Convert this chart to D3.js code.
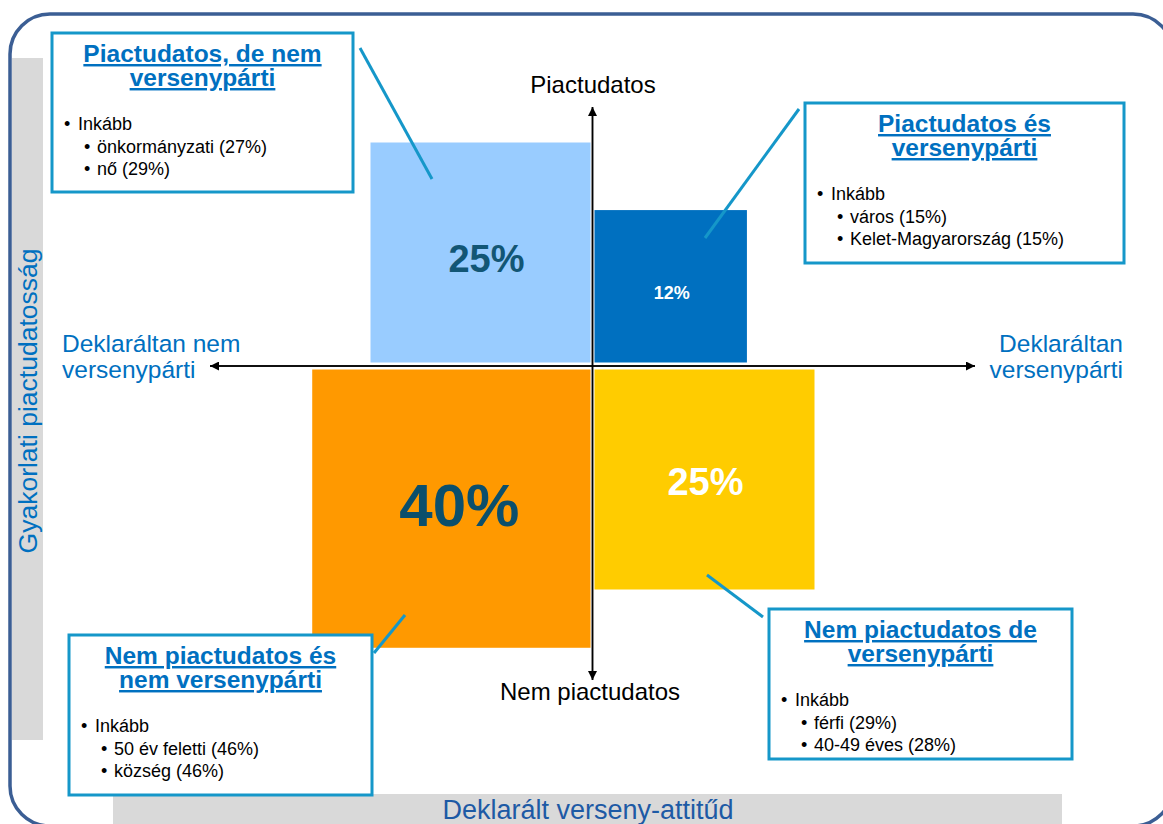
<!DOCTYPE html>
<html lang="hu">
<head>
<meta charset="utf-8">
<script src="https://cdn.jsdelivr.net/npm/d3@7"></script>
<style>
  html, body { margin: 0; padding: 0; background: #fff; overflow: hidden; }
  svg { display: block; font-family: "Liberation Sans", Arial, sans-serif; }
</style>
</head>
<body>
<div id="chart"></div>
<script>
/* quadrant chart: declared competition attitude vs practical market awareness */

const width = 1163;
const height = 824;

// order of every array: top-left, top-right, bottom-left, bottom-right
const shares = [25, 12, 40, 25];
const titles = [
  ["Piactudatos, de nem", "versenypárti"],
  ["Piactudatos és", "versenypárti"],
  ["Nem piactudatos és", "nem versenypárti"],
  ["Nem piactudatos de", "versenypárti"]
];
const leadWord = "Inkább";
const details = [
  ["önkormányzati (27%)", "nő (29%)"],
  ["város (15%)", "Kelet-Magyarország (15%)"],
  ["50 év feletti (46%)", "község (46%)"],
  ["férfi (29%)", "40-49 éves (28%)"]
];
const axisTop = "Piactudatos";
const axisBottom = "Nem piactudatos";
const axisLeft = ["Deklaráltan nem", "versenypárti"];
const axisRight = ["Deklaráltan", "versenypárti"];
const titleY = "Gyakorlati piactudatosság";
const titleX = "Deklarált verseny-attitűd";

// styles
const fillColors = ["#99ccff", "#0070c0", "#ff9900", "#ffcc00"];
const labelColors = ["#125675", "#ffffff", "#0b4f6c", "#ffffff"];
const labelSizes = [38, 18, 60, 38];
const blue = "#0070c0";
const calloutBlue = "#1597c9";

// layout
const origin = { x: 592.5, y: 366 };
const gapX = 2, gapY = 3.5;
const signs = [[-1, -1], [1, -1], [-1, 1], [1, 1]];
const boxes = [
  { x: 52, y: 33, w: 301, h: 159, from: [360, 48], to: [432, 179] },
  { x: 805, y: 103, w: 319, h: 160, from: [799, 109], to: [705, 238] },
  { x: 69, y: 635, w: 303, h: 160, from: [405, 615], to: [374, 653] },
  { x: 769, y: 609, w: 303, h: 150, from: [707, 575], to: [763, 617] }
];

const fmt = d3.format(".0%");
// square area is proportional to the share
const side = d3.scaleSqrt().domain([0, 100]).range([0, 440]);

const svg = d3.select("#chart").append("svg")
  .attr("width", width)
  .attr("height", height);

const defs = svg.append("defs");
defs.append("marker")
  .attr("id", "arrow")
  .attr("viewBox", "0 0 10 10")
  .attr("refX", 10).attr("refY", 5)
  .attr("markerWidth", 9).attr("markerHeight", 9)
  .attr("markerUnits", "userSpaceOnUse")
  .attr("orient", "auto")
  .append("path")
  .attr("d", "M0,0 L10,5 L0,10 z")
  .attr("fill", "#000");

// frame and grey title bands
svg.append("rect")
  .attr("x", 12).attr("y", 58).attr("width", 31).attr("height", 682)
  .attr("fill", "#d9d9d9");
svg.append("rect")
  .attr("x", 113).attr("y", 794).attr("width", 949).attr("height", 40)
  .attr("fill", "#d9d9d9");
svg.append("rect")
  .attr("x", 10).attr("y", 14).attr("width", 1163).attr("height", 812)
  .attr("rx", 40).attr("ry", 40)
  .attr("fill", "none")
  .attr("stroke", "#3b5e94")
  .attr("stroke-width", 3.5);

svg.append("text")
  .attr("transform", "translate(37,401) rotate(-90)")
  .attr("text-anchor", "middle")
  .attr("font-size", 26.5)
  .attr("fill", blue)
  .text(titleY);

svg.append("text")
  .attr("x", 588).attr("y", 819)
  .attr("text-anchor", "middle")
  .attr("font-size", 27)
  .attr("fill", "#1d5aa5")
  .text(titleX);

// quadrant squares
const data = shares.map((v, i) => ({ v, i, s: side(v), sx: signs[i][0], sy: signs[i][1] }));

const cells = svg.selectAll("g.cell")
  .data(data)
  .enter().append("g")
  .attr("class", "cell")
  .attr("transform", d => {
    const x = d.sx < 0 ? origin.x - gapX - d.s : origin.x + gapX;
    const y = d.sy < 0 ? origin.y - gapY - d.s : origin.y + gapY;
    return `translate(${x},${y})`;
  });

cells.append("rect")
  .attr("width", d => d.s)
  .attr("height", d => d.s)
  .attr("fill", d => fillColors[d.i]);

cells.append("text")
  .attr("x", d => d.s / 2 + (d.i === 2 ? 8 : d.i === 0 ? 6 : 1))
  .attr("y", d => d.s / 2 + labelSizes[d.i] * 0.36 + (d.i === 2 ? -4 : d.i === 3 ? 2 : 6))
  .attr("text-anchor", "middle")
  .attr("font-weight", "bold")
  .attr("font-size", d => labelSizes[d.i])
  .attr("fill", d => labelColors[d.i])
  .text(d => fmt(d.v / 100));

// axes (arrow at both ends)
[[680, 107], [107, 680]].forEach(([a, b]) => {
  svg.append("line")
    .attr("x1", origin.x).attr("x2", origin.x)
    .attr("y1", a).attr("y2", b)
    .attr("stroke", "#000").attr("stroke-width", 1.5)
    .attr("marker-end", "url(#arrow)");
});
[[975, 210], [210, 975]].forEach(([a, b]) => {
  svg.append("line")
    .attr("x1", a).attr("x2", b)
    .attr("y1", origin.y).attr("y2", origin.y)
    .attr("stroke", "#000").attr("stroke-width", 1.5)
    .attr("marker-end", "url(#arrow)");
});

svg.append("text")
  .attr("x", 593).attr("y", 93)
  .attr("text-anchor", "middle").attr("font-size", 24)
  .text(axisTop);
svg.append("text")
  .attr("x", 590).attr("y", 700)
  .attr("text-anchor", "middle").attr("font-size", 24)
  .text(axisBottom);

svg.append("g").selectAll("text")
  .data(axisLeft).enter().append("text")
  .attr("x", 62).attr("y", (d, i) => 352 + i * 26)
  .attr("font-size", 24.5).attr("fill", blue)
  .text(d => d);
svg.append("g").selectAll("text")
  .data(axisRight).enter().append("text")
  .attr("x", 1123).attr("y", (d, i) => 352 + i * 26)
  .attr("text-anchor", "end")
  .attr("font-size", 24.5).attr("fill", blue)
  .text(d => d);

// callouts
const callouts = svg.selectAll("g.callout")
  .data(boxes)
  .enter().append("g")
  .attr("class", "callout");

callouts.append("line")
  .attr("x1", d => d.from[0]).attr("y1", d => d.from[1])
  .attr("x2", d => d.to[0]).attr("y2", d => d.to[1])
  .attr("stroke", calloutBlue)
  .attr("stroke-width", 3);

callouts.append("rect")
  .attr("x", d => d.x).attr("y", d => d.y)
  .attr("width", d => d.w).attr("height", d => d.h)
  .attr("fill", "#fff")
  .attr("stroke", calloutBlue)
  .attr("stroke-width", 3);

callouts.each(function(b, i) {
  const g = d3.select(this);
  titles[i].forEach((t, k) => {
    g.append("text")
      .attr("x", b.x + b.w / 2)
      .attr("y", b.y + 29 + k * 24)
      .attr("text-anchor", "middle")
      .attr("font-size", 24.5)
      .attr("font-weight", "bold")
      .attr("fill", blue)
      .style("text-decoration", "underline")
      .text(t);
  });
  const rows = [{ t: leadWord, lvl: 0 }].concat(details[i].map(t => ({ t, lvl: 1 })));
  rows.forEach((r, k) => {
    const y = b.y + 97 + k * 22.5;
    g.append("text")
      .attr("x", b.x + (r.lvl ? 32 : 12))
      .attr("y", y)
      .attr("font-size", 18)
      .text("•");
    g.append("text")
      .attr("x", b.x + (r.lvl ? 45 : 26))
      .attr("y", y)
      .attr("font-size", 18)
      .text(r.t);
  });
});
</script>
</body>
</html>
